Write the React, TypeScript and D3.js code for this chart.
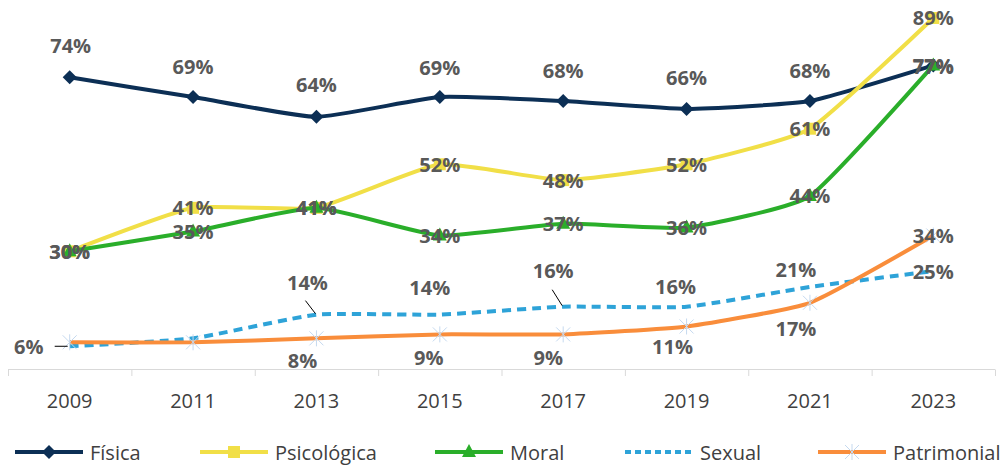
import * as d3 from 'd3';

const years = ['2009', '2011', '2013', '2015', '2017', '2019', '2021', '2023'];
const fisica = [74, 69, 64, 69, 68, 66, 68, 77];
const psicologica = [30, 41, 41, 52, 48, 52, 61, 89];
const moral = [30, 35, 41, 34, 37, 36, 44, 77];
const sexual = [6, 8, 14, 14, 16, 16, 21, 25];
const patrimonial = [7, 7, 8, 9, 9, 11, 17, 34];
// which points carry a data label
const sexualShown = [true, false, true, true, true, true, true, true];
const patrimonialShown = [false, false, true, true, true, true, true, true];

const W = 1007;
const H = 465;
const FONT = '"Open Sans", "Noto Sans", sans-serif';
const LABEL = '#595959';

type Series = {
  name: string;
  values: number[];
  color: string;
  marker: 'diamond' | 'square' | 'triangle' | 'none' | 'star';
  dash?: string;
  shown?: boolean[];
  offsets: [number, number][];
};

const series: Series[] = [
  {
    name: 'Física', values: fisica, color: '#0c2f55', marker: 'diamond',
    offsets: [[1, -32], [0, -31], [0, -32], [0, -30], [0, -31], [0, -31], [0, -31], [0, 1]],
  },
  {
    name: 'Psicológica', values: psicologica, color: '#f1df47', marker: 'square',
    offsets: years.map(() => [0, 0] as [number, number]),
  },
  {
    name: 'Moral', values: moral, color: '#2aae2a', marker: 'triangle',
    offsets: years.map(() => [0, 0] as [number, number]),
  },
  {
    name: 'Sexual', values: sexual, color: '#2ea3d8', marker: 'none', dash: '9 6', shown: sexualShown,
    offsets: [[-41, 0], [0, 0], [-9, -32], [-10, -27], [-10, -36], [-11, -20], [-14, -17], [0, 0]],
  },
  {
    name: 'Patrimonial', values: patrimonial, color: '#f98d3b', marker: 'star', shown: patrimonialShown,
    offsets: [[0, 0], [0, 0], [-14, 22], [-11, 23], [-15, 23], [-14, 20], [-14, 26], [0, 0]],
  },
];

const leaders: { year: string; s: string; x1: number; y1: number; x2: number; y2: number }[] = [
  { year: '2009', s: 'Sexual', x1: -15, y1: 0, x2: -2, y2: 0 },
  { year: '2013', s: 'Sexual', x1: -11, y1: -14, x2: -1, y2: -1 },
  { year: '2017', s: 'Sexual', x1: -11, y1: -17, x2: -1, y2: -1 },
];

function Marker({ kind, x, y, color }: { kind: Series['marker']; x: number; y: number; color: string }) {
  if (kind === 'diamond') {
    const r = 7;
    return <path d={`M${x},${y - r}L${x + r},${y}L${x},${y + r}L${x - r},${y}Z`} fill={color} />;
  }
  if (kind === 'square') {
    return <rect x={x - 6} y={y - 6} width={12} height={12} fill={color} />;
  }
  if (kind === 'triangle') {
    return <path d={`M${x},${y - 8}L${x + 7},${y + 5}L${x - 7},${y + 5}Z`} fill={color} />;
  }
  if (kind === 'star') {
    const r = 7;
    return (
      <g stroke="#c5d9ef" strokeWidth={1}>
        <line x1={x - r} y1={y - r} x2={x + r} y2={y + r} />
        <line x1={x - r} y1={y + r} x2={x + r} y2={y - r} />
        <line x1={x} y1={y - r - 1} x2={x} y2={y + r + 1} />
      </g>
    );
  }
  return null;
}

export default function App() {
  const x = d3.scaleBand().domain(years).range([8, 995]);
  const y = d3.scaleLinear().domain([0, 90]).range([370, 14]);
  const cx = (yr: string) => (x(yr) ?? 0) + x.bandwidth() / 2;
  const line = d3
    .line<number>()
    .x((_, i) => cx(years[i]))
    .y((v) => y(v))
    .curve(d3.curveCardinal.tension(0.55));

  const boundaries = [...years.map((yr) => x(yr) ?? 0), x.range()[1]];
  const legendX = [15, 200, 435, 625, 818];

  return (
    <svg width={W} height={H} style={{ position: 'absolute', left: 0, top: 0 }} fontFamily={FONT}>
      <rect width={W} height={H} fill="#fff" />
      {/* axis */}
      <line x1={8} x2={995} y1={369.5} y2={369.5} stroke="#d9d9d9" strokeWidth={1} />
      {boundaries.map((b, i) => (
        <line key={i} x1={b + 0.5} x2={b + 0.5} y1={369.5} y2={376} stroke="#d9d9d9" strokeWidth={1} />
      ))}
      {years.map((yr) => (
        <text key={yr} x={cx(yr)} y={400} textAnchor="middle" dominantBaseline="central" fontSize={20} fill="#404040">
          {yr}
        </text>
      ))}
      {/* lines */}
      {series.map((s) => (
        <g key={s.name}>
          <path d={line(s.values) ?? ''} fill="none" stroke={s.color} strokeWidth={4}
            strokeDasharray={s.dash} strokeLinejoin="round" />
          {s.values.map((v, i) => (
            <Marker key={i} kind={s.marker} x={cx(years[i])} y={y(v)} color={s.color} />
          ))}
        </g>
      ))}
      {/* leader lines */}
      {leaders.map((l, i) => {
        const s = series.find((d) => d.name === l.s)!;
        const px = cx(l.year);
        const py = y(s.values[years.indexOf(l.year)]);
        return <line key={i} x1={px + l.x1} y1={py + l.y1} x2={px + l.x2} y2={py + l.y2} stroke="#000" strokeWidth={1} />;
      })}
      {/* data labels */}
      {series.map((s) =>
        s.values.map((v, i) =>
          s.shown && !s.shown[i] ? null : (
            <text key={s.name + i} x={cx(years[i]) + s.offsets[i][0]} y={y(v) + s.offsets[i][1]}
              textAnchor="middle" dominantBaseline="central" fontSize={20} fontWeight={700} fill={LABEL}>
              {v}%
            </text>
          ),
        ),
      )}
      {/* legend */}
      {series.map((s, i) => {
        const lx = legendX[i];
        return (
          <g key={s.name}>
            <line x1={lx} x2={lx + 68} y1={452} y2={452} stroke={s.color} strokeWidth={4}
              strokeDasharray={s.dash ? '6 4' : undefined} />
            <Marker kind={s.marker} x={lx + 34} y={452} color={s.color} />
            <text x={lx + 75} y={452} dominantBaseline="central" fontSize={20} fill="#404040">{s.name}</text>
          </g>
        );
      })}
    </svg>
  );
}
